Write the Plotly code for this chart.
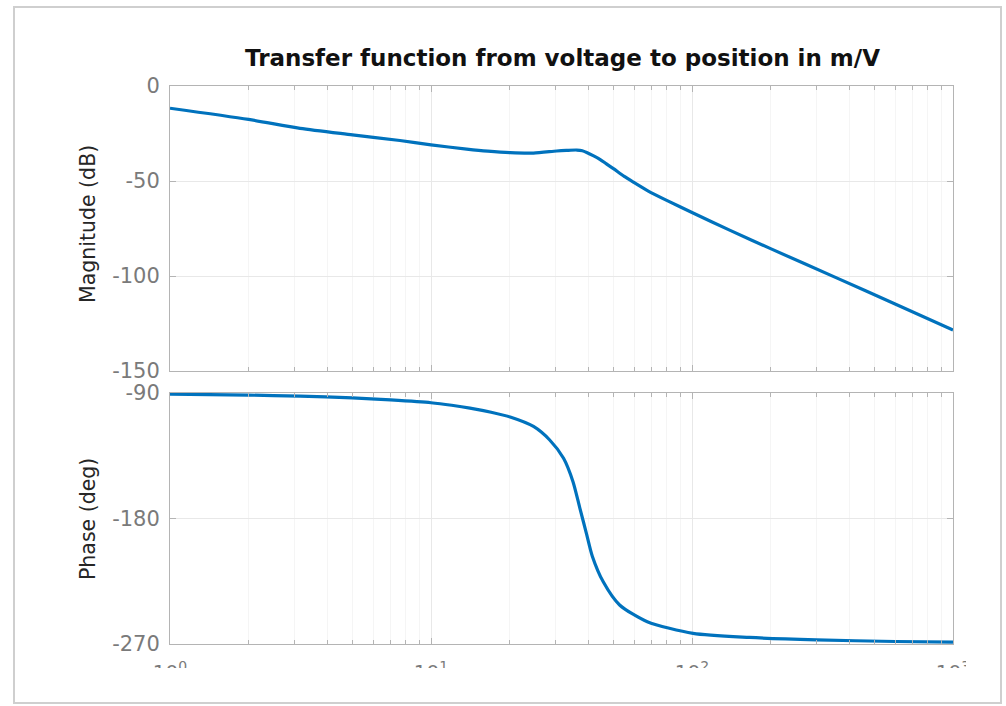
import plotly.graph_objects as go

# ---- data ----
mag_w = [1, 2, 3.15, 5, 7.6, 10, 13.7, 16.5, 20.1, 24.7, 30.3, 33, 36.2, 38, 39.5, 42, 44.5, 47, 50,
         55, 59.6, 68, 80, 100, 140, 200, 358, 600, 1000]
mag_db = [-11.7, -17.6, -22.3, -25.7, -28.7, -31.0, -33.2, -34.3, -35.1, -35.3, -34.2, -33.9, -33.7,
          -34.1, -35.0, -36.8, -38.7, -41.0, -43.5, -47.6, -50.6, -55.3, -60.2, -66.6, -76.0, -85.6,
          -101.0, -114.7, -128.4]

ph_w = [1, 2, 3.15, 5, 7, 10, 12, 14.1, 17, 20.1, 24.7, 28.5, 32.2, 35, 37.2, 39.5, 41.5, 45.7,
        52.8, 67.4, 101, 166, 300, 600, 1000]
ph_deg = [-90.8, -91.5, -92.3, -93.5, -95.0, -97.0, -98.8, -100.8, -103.8, -107.2, -114.0, -123.7,
          -136.8, -153.6, -172.7, -191.5, -207.0, -225.4, -242.0, -254.0, -262.4, -265.3, -267.0,
          -268.2, -268.7]

x_ticks = [1, 10, 100, 1000]
x_ticktext = ["10<sup>0</sup>", "10<sup>1</sup>", "10<sup>2</sup>", "10<sup>3</sup>"]
x_minor = [m * 10 ** d for d in range(3) for m in range(2, 10)]
mag_ticks = [0, -50, -100, -150]
mag_ticktext = ["0", "-50", "-100", "-150"]
ph_ticks = [-90, -180, -270]
ph_ticktext = ["-90", "-180", "-270"]

title_text = "Transfer function from voltage to position in m/V"
mag_label = "Magnitude (dB)"
ph_label = "Phase (deg)"

# ---- style ----
LINE = "#0072BD"
AX = "#b4b4b4"
GRID = "#e8e8e8"
MGRID = "#f5f5f5"
TICKFONT = dict(family="DejaVu Sans", size=21, color="#7a7a7a")
LABELFONT = dict(family="DejaVu Sans", size=20.5, color="#262626")

W, H = 1006, 706
L, R, T, B = 170, 53, 86, 62
PW, PH = W - L - R, H - T - B


def px(xp):
    return (xp - L) / PW


def py(yp):
    return (H - B - yp) / PH


fig = go.Figure()
fig.add_trace(go.Scatter(x=mag_w, y=mag_db, xaxis="x", yaxis="y", mode="lines",
                         line=dict(color=LINE, width=3.2, shape="spline", smoothing=0.7),
                         hoverinfo="skip"))
fig.add_trace(go.Scatter(x=ph_w, y=ph_deg, xaxis="x2", yaxis="y2", mode="lines",
                         line=dict(color=LINE, width=3.2, shape="spline", smoothing=0.7),
                         hoverinfo="skip"))

common_x = dict(type="log", range=[0, 3], domain=[0, 1], showline=True, linecolor=AX, linewidth=1,
                mirror="ticks", ticks="inside", ticklen=6, tickcolor=AX, showgrid=True,
                gridcolor=GRID, gridwidth=1, zeroline=False, tickvals=x_ticks,
                minor=dict(tickmode="array", tickvals=x_minor, ticks="inside", ticklen=4,
                           tickcolor=AX, showgrid=True, gridcolor=MGRID, gridwidth=1))
common_y = dict(showline=True, linecolor=AX, linewidth=1, mirror="ticks", ticks="inside",
                ticklen=6, tickcolor=AX, showgrid=True, gridcolor=GRID, zeroline=False,
                tickfont=TICKFONT, ticklabelstandoff=5, tickmode="array")

top_dom = [py(371), 1]
bot_dom = [0, py(393)]

fig.update_layout(
    width=W, height=H, margin=dict(l=L, r=R, t=T, b=B),
    paper_bgcolor="white", plot_bgcolor="white", showlegend=False,
    xaxis=dict(common_x, anchor="y", showticklabels=False),
    xaxis2=dict(common_x, anchor="y2", tickmode="array", ticktext=x_ticktext,
                tickfont=dict(TICKFONT, size=20), ticklabelstandoff=10),
    yaxis=dict(common_y, domain=top_dom, range=[-150, 0], tickvals=mag_ticks,
               ticktext=mag_ticktext, anchor="x"),
    yaxis2=dict(common_y, domain=bot_dom, range=[-270, -90], tickvals=ph_ticks,
                ticktext=ph_ticktext, anchor="x2"),
)

fig.add_annotation(text="<b>" + title_text + "</b>", xref="paper", yref="paper",
                   x=px(562), y=py(58), xanchor="center", yanchor="middle", showarrow=False,
                   font=dict(family="DejaVu Sans", size=23, color="#111111"))
fig.add_annotation(text=mag_label, xref="paper", yref="paper", x=px(88),
                   y=py(224), textangle=-90, xanchor="center",
                   yanchor="middle", showarrow=False, font=LABELFONT)
fig.add_annotation(text=ph_label, xref="paper", yref="paper", x=px(88),
                   y=py(519), textangle=-90, xanchor="center",
                   yanchor="middle", showarrow=False, font=LABELFONT)

# white masks that crop the lower tick labels like the reference screenshot
fig.add_shape(type="rect", xref="paper", yref="paper", layer="above",
              x0=px(16), x1=px(1000), y0=py(701), y1=py(668),
              fillcolor="white", line=dict(width=0))
fig.add_shape(type="rect", xref="paper", yref="paper", layer="above",
              x0=px(966), x1=px(1000), y0=py(701), y1=py(646),
              fillcolor="white", line=dict(width=0))
# outer frame
fig.add_shape(type="rect", xref="paper", yref="paper", layer="above",
              x0=px(14), x1=px(1001), y0=py(703), y1=py(7),
              fillcolor="rgba(0,0,0,0)", line=dict(color="#cfcfcf", width=2))

fig.write_html("out.html", config={"displayModeBar": False},
               post_script="document.body.style.margin='0';")
